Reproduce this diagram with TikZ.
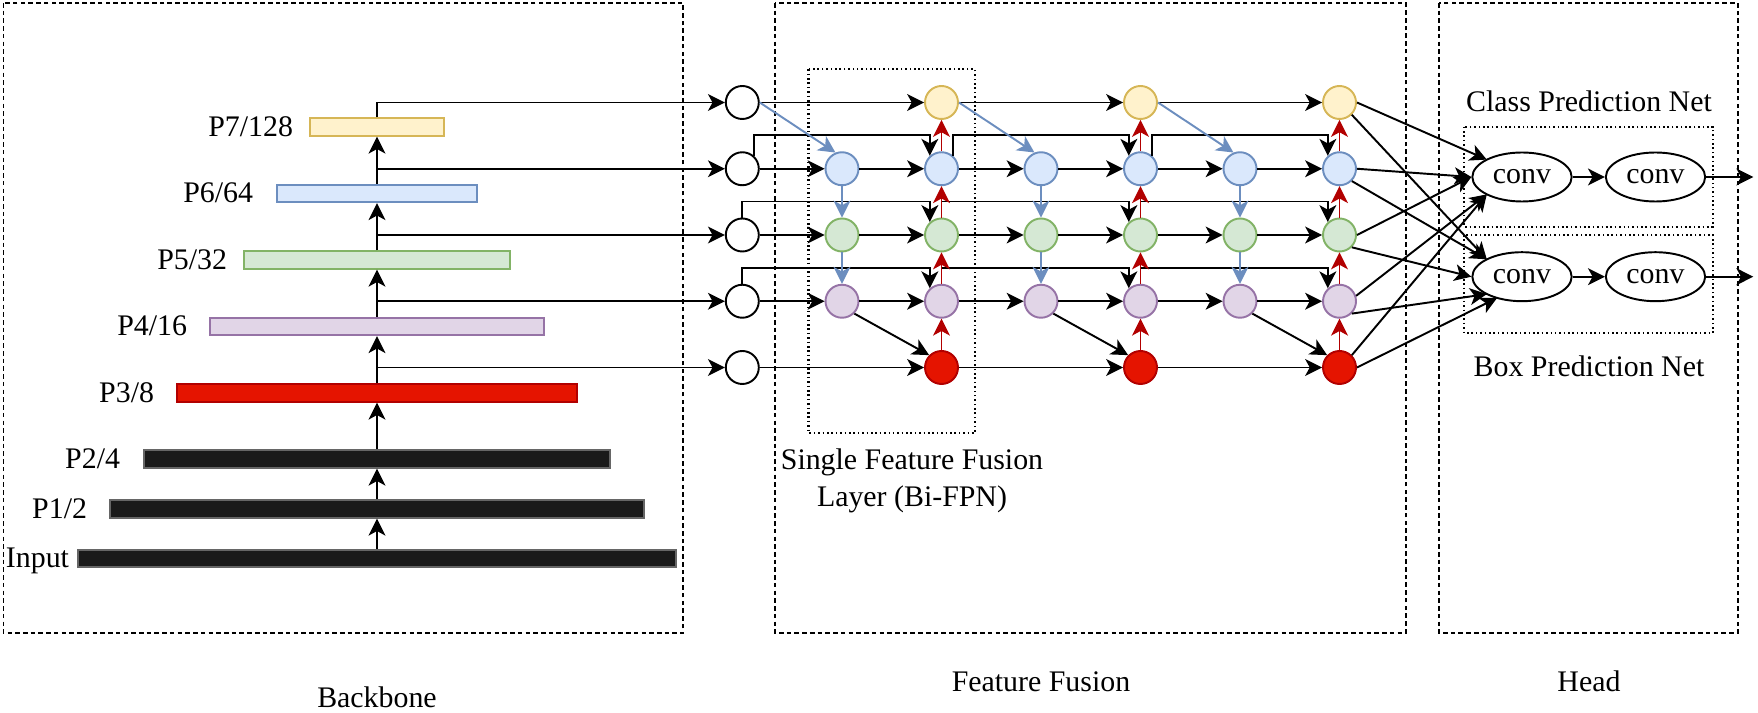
\documentclass[tikz,border=0pt]{standalone}
\usepackage{fontspec}
\setmainfont{Liberation Serif}
\usetikzlibrary{arrows.meta,calc,shapes.geometric}
\definecolor{ylF}{HTML}{FFF2CC}\definecolor{ylD}{HTML}{D6B656}
\definecolor{blF}{HTML}{DAE8FC}\definecolor{blD}{HTML}{6C8EBF}
\definecolor{grF}{HTML}{D5E8D4}\definecolor{grD}{HTML}{82B366}
\definecolor{puF}{HTML}{E1D5E7}\definecolor{puD}{HTML}{9673A6}
\definecolor{rdF}{HTML}{E51400}\definecolor{rdD}{HTML}{B20000}
\definecolor{bkF}{HTML}{1A1A1A}
\def\RowA{102.5}\def\RowB{168.75}\def\RowC{235}\def\RowD{301.25}\def\RowE{367.5}
\def\ColW{742.3}\def\ColA{842}\def\ColB{941.5}\def\ColC{1041}\def\ColD{1140.5}\def\ColE{1240}\def\ColF{1339.5}
\begin{document}
\begin{tikzpicture}[x=0.1mm,y=-0.1mm,line width=0.55pt,
  font=\fontsize{8.5pt}{10.4pt}\selectfont,
  tip/.style={-{Stealth[length=4.8pt,width=4.8pt,inset=1.3pt]}},
  arr/.style={draw=black,tip},
  barr/.style={draw=blD,tip},
  rarr/.style={draw=rdD,tip},
  bar/.style={rectangle,inner sep=0pt,minimum height=1.75mm},
  lbl/.style={inner sep=0pt,anchor=base east},
  txt/.style={inner sep=0pt,anchor=base},
  fnode/.style={circle,inner sep=0pt,minimum size=3.3mm},
  wn/.style={fnode,fill=white,draw=black},
  yn/.style={fnode,fill=ylF,draw=ylD},
  bn/.style={fnode,fill=blF,draw=blD},
  gn/.style={fnode,fill=grF,draw=grD},
  pn/.style={fnode,fill=puF,draw=puD},
  rn/.style={fnode,fill=rdF,draw=rdD},
  convn/.style={ellipse,draw=black,inner sep=0pt,minimum width=9.93mm,minimum height=4.9mm},
  dashbox/.style={draw=black,dash pattern=on 1.3pt off 0.9pt},
  dotbox/.style={draw=black,line width=0.6pt,dash pattern=on 0.45pt off 0.8pt}]
\useasboundingbox (0,0) rectangle (1758,713);

% ---------- frames ----------
\draw[dashbox] (3.5,3) rectangle (683.3,633);
\draw[dashbox] (775,3) rectangle (1405.7,633);
\draw[dashbox] (1439,3) rectangle (1737.7,633);
\draw[dotbox] (808.5,69.3) rectangle (975,433);
\draw[dotbox] (1464.3,126.7) rectangle (1712.7,226.7);
\draw[dotbox] (1464.3,235) rectangle (1712.7,333.3);

% ---------- titles ----------
\node[txt] (tbb) at (377,708) {Backbone};
\node[txt] (tff) at (1041,692) {Feature Fusion};
\node[txt] (thd) at (1589,692) {Head};
\node[txt] (tsf1) at (912,470) {Single Feature Fusion};
\node[txt] (tsf2) at (912,506.7) {Layer (Bi-FPN)};
\node[txt] (tcp) at (1589,111.7) {Class Prediction Net};
\node[txt] (tbp) at (1589,377) {Box Prediction Net};

% ---------- backbone bars ----------
\node[bar,fill=ylF,draw=ylD,minimum width=13.4mm] (b7) at (377,127) {};
\node[bar,fill=blF,draw=blD,minimum width=20mm] (b6) at (377,193.5) {};
\node[bar,fill=grF,draw=grD,minimum width=26.67mm] (b5) at (377,260) {};
\node[bar,fill=puF,draw=puD,minimum width=33.33mm] (b4) at (377,326.5) {};
\node[bar,fill=rdF,draw=rdD,minimum width=40mm] (b3) at (377,393) {};
\node[bar,fill=bkF,draw=black!60,minimum width=46.67mm] (b2) at (377,459) {};
\node[bar,fill=bkF,draw=black!60,minimum width=53.33mm] (b1) at (377,509) {};
\node[bar,fill=bkF,draw=black!60,minimum width=59.8mm] (bIn) at (377,558.5) {};

\node[lbl] (l7) at (294,136.5) {P7/128};
\node[lbl] (l6) at (254,203) {P6/64};
\node[lbl] (l5) at (228,269.5) {P5/32};
\node[lbl] (l4) at (188,336) {P4/16};
\node[lbl] (l3) at (155,402.5) {P3/8};
\node[lbl] (l2) at (121,468.5) {P2/4};
\node[lbl] (l1) at (88,518.5) {P1/2};
\node[lbl] (lIn) at (70,568) {Input};

% ---------- fusion nodes ----------
\node[wn] (w1) at (\ColW,\RowA) {};
\node[wn] (w2) at (\ColW,\RowB) {};
\node[wn] (w3) at (\ColW,\RowC) {};
\node[wn] (w4) at (\ColW,\RowD) {};
\node[wn] (w5) at (\ColW,\RowE) {};
\foreach \c/\x in {A/\ColA,C/\ColC,E/\ColE}{
  \node[bn] (\c2) at (\x,\RowB) {};
  \node[gn] (\c3) at (\x,\RowC) {};
  \node[pn] (\c4) at (\x,\RowD) {};
}
\foreach \c/\x in {B/\ColB,D/\ColD,F/\ColF}{
  \node[yn] (\c1) at (\x,\RowA) {};
  \node[bn] (\c2) at (\x,\RowB) {};
  \node[gn] (\c3) at (\x,\RowC) {};
  \node[pn] (\c4) at (\x,\RowD) {};
  \node[rn] (\c5) at (\x,\RowE) {};
}

% ---------- backbone connectors ----------
\coordinate (j2) at (377,\RowB);
\coordinate (j3) at (377,\RowC);
\coordinate (j4) at (377,\RowD);
\coordinate (j5) at (377,\RowE);
\draw[arr] (bIn.north) -- (b1.south);
\draw[arr] (b1.north) -- (b2.south);
\draw[arr] (b2.north) -- (b3.south);
\draw[arr] (b3.north) -- (b4.south);
\draw[arr] (b4.north) -- (b5.south);
\draw[arr] (b5.north) -- (b6.south);
\draw[arr] (b6.north) -- (b7.south);
\draw[arr] (b7.north) |- (w1.west);
\draw[arr] (j2) -- (w2.west);
\draw[arr] (j3) -- (w3.west);
\draw[arr] (j4) -- (w4.west);
\draw[arr] (j5) -- (w5.west);

% ---------- skip connections ----------
\draw[arr] (w2.48) |- ([yshift=2.05mm]B2.132) -- (B2.132);
\draw[arr] (w3.north) |- ([yshift=2.05mm]B3.132) -- (B3.132);
\draw[arr] (w4.north) |- ([yshift=2.05mm]B4.132) -- (B4.132);
\draw[arr] (B2.48) |- ([yshift=2.05mm]D2.132) -- (D2.132);
\draw[arr] (B3.north) |- ([yshift=2.05mm]D3.132) -- (D3.132);
\draw[arr] (B4.north) |- ([yshift=2.05mm]D4.132) -- (D4.132);
\draw[arr] (D2.48) |- ([yshift=2.05mm]F2.132) -- (F2.132);
\draw[arr] (D3.north) |- ([yshift=2.05mm]F3.132) -- (F3.132);
\draw[arr] (D4.north) |- ([yshift=2.05mm]F4.132) -- (F4.132);

% ---------- horizontal ----------
\draw[arr] (w1) -- (B1);
\draw[arr] (B1) -- (D1);
\draw[arr] (D1) -- (F1);
\foreach \r in {2,3,4}{
  \draw[arr] (w\r) -- (A\r);
  \draw[arr] (A\r) -- (B\r);
  \draw[arr] (B\r) -- (C\r);
  \draw[arr] (C\r) -- (D\r);
  \draw[arr] (D\r) -- (E\r);
  \draw[arr] (E\r) -- (F\r);
}
\draw[arr] (w5) -- (B5);
\draw[arr] (B5) -- (D5);
\draw[arr] (D5) -- (F5);

% ---------- top-down (blue) ----------
\draw[barr] (w1.east) -- (A2.112);
\draw[barr] (B1.east) -- (C2.112);
\draw[barr] (D1.east) -- (E2.112);
\foreach \c in {A,C,E}{
  \draw[barr] (\c2) -- (\c3);
  \draw[barr] (\c3) -- (\c4);
}
% ---------- diagonal to P3 ----------
\draw[arr] (A4.south east) -- (B5.north west);
\draw[arr] (C4.south east) -- (D5.north west);
\draw[arr] (E4.south east) -- (F5.north west);

% ---------- bottom-up (red) ----------
\foreach \c in {B,D,F}{
  \draw[rarr] (\c5) -- (\c4);
  \draw[rarr] (\c4) -- (\c3);
  \draw[rarr] (\c3) -- (\c2);
  \draw[rarr] (\c2) -- (\c1);
}

% ---------- head ----------
\node[convn] (c1) at (1522,177) {conv};
\node[convn] (c2) at (1655.5,177) {conv};
\node[convn] (d1) at (1522,276.7) {conv};
\node[convn] (d2) at (1655.5,276.7) {conv};
\coordinate (c1ul) at ($(c1.center)+(-35.2,-17.4)$);
\coordinate (c1ll) at ($(c1.center)+(-35.2,17.4)$);
\coordinate (d1ul) at ($(d1.center)+(-35.2,-17.4)$);
\coordinate (d1ll) at ($(d1.center)+(-35.2,17.4)$);
\coordinate (d1lb) at ($(d1.center)+(-24.8,21.2)$);
\coordinate (oc) at (1753.3,177);
\coordinate (od) at (1753.3,276.7);

\draw[arr] (F1.east) -- (c1ul);
\draw[arr] (F1.south east) -- (d1ul);
\draw[arr] (F2.east) -- (c1.west);
\draw[arr] (F2.south east) -- (d1ul);
\draw[arr] (F3.east) -- (c1.west);
\draw[arr] (F3.south east) -- (d1.west);
\draw[arr] (F4.18) -- (c1ll);
\draw[arr] (F4.south east) -- (d1ll);
\draw[arr] (F5.north east) -- (c1ll);
\draw[arr] (F5.east) -- (d1lb);

\draw[arr] (c1) -- (c2);
\draw[arr] (d1) -- (d2);
\draw[arr] (c2) -- (oc);
\draw[arr] (d2) -- (od);
\end{tikzpicture}
\end{document}
